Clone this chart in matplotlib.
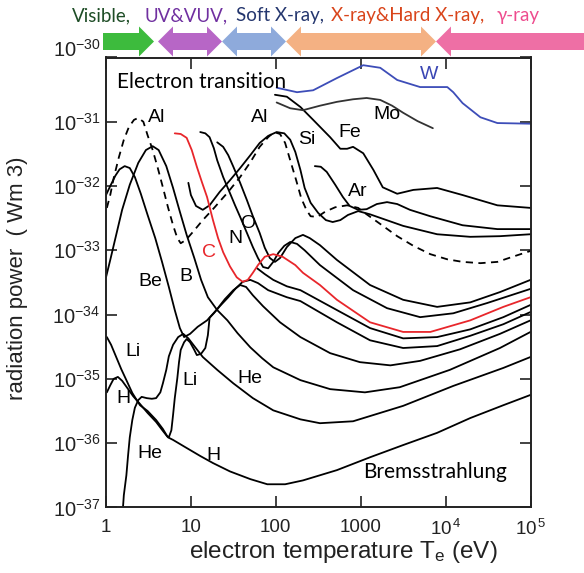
import numpy as np
import matplotlib
matplotlib.use('Agg')
import matplotlib.pyplot as plt
from matplotlib.patches import Polygon
from matplotlib.ticker import NullLocator
from matplotlib.transforms import ScaledTranslation

plt.rcParams['font.family'] = ['Liberation Sans', 'DejaVu Sans']
plt.rcParams['mathtext.fontset'] = 'custom'
plt.rcParams['mathtext.rm'] = 'Liberation Sans'
plt.rcParams['mathtext.it'] = 'Liberation Sans:italic'
plt.rcParams['mathtext.bf'] = 'Liberation Sans:bold'

# ---- data: log10 of electron temperature (eV) and log10 of radiation power (W m^3) ----
h_logT = [0.01,0.05,0.09,0.14,0.19,0.25,0.32,0.40,0.49,0.59,0.67,0.73,0.79,0.93,1.11,1.26,1.46,1.70,1.90,2.11,2.32,2.72,3.11,3.50,3.90,4.29,4.68,5.00]
h_logP = [-35.21,-35.10,-35.00,-34.97,-35.03,-35.14,-35.27,-35.39,-35.53,-35.67,-35.81,-35.91,-35.95,-36.06,-36.20,-36.31,-36.44,-36.56,-36.64,-36.64,-36.58,-36.42,-36.22,-36.03,-35.84,-35.61,-35.41,-35.25]

he_logT = [0.20,0.21,0.24,0.26,0.28,0.31,0.34,0.38,0.42,0.48,0.54,0.59,0.64,0.67,0.71,0.74,0.79,0.85,0.91,0.97,1.04,1.14,1.31,1.50,1.73,1.97,2.29,2.52,2.91,3.50,4.09,4.68,5.00]
he_logP = [-37.00,-36.81,-36.50,-36.19,-35.91,-35.64,-35.45,-35.33,-35.28,-35.30,-35.31,-35.30,-35.21,-35.07,-34.86,-34.65,-34.47,-34.35,-34.30,-34.37,-34.49,-34.66,-34.86,-35.07,-35.30,-35.49,-35.63,-35.69,-35.66,-35.42,-35.11,-34.83,-34.66]

li_logT = [0.01,0.06,0.12,0.18,0.24,0.31,0.40,0.49,0.59,0.67,0.72,0.74,0.77,0.79,0.81,0.84,0.86,0.88,0.92,0.95,0.99,1.04,1.07,1.12,1.17,1.20,1.22,1.27,1.34,1.44,1.53,1.61,1.70,1.79,1.91,2.13,2.29,2.72,3.11,3.50,3.90,4.29,4.68,5.00]
li_logP = [-34.35,-34.47,-34.66,-34.85,-35.02,-35.22,-35.41,-35.50,-35.64,-35.78,-35.89,-35.91,-35.80,-35.56,-35.30,-34.99,-34.74,-34.55,-34.43,-34.38,-34.43,-34.55,-34.63,-34.61,-34.52,-34.32,-34.05,-33.98,-33.87,-33.73,-33.59,-33.49,-33.46,-33.51,-33.62,-33.73,-33.79,-34.12,-34.40,-34.52,-34.49,-34.33,-34.15,-33.96]

be_logT = [0.00,0.05,0.11,0.16,0.22,0.28,0.34,0.41,0.49,0.58,0.66,0.74,0.81,0.87,0.92,0.99,1.08,1.19,1.30,1.40,1.50,1.58,1.65,1.73,1.85,2.05,2.29,2.64,2.99,3.35,3.70,4.17,4.64,5.00]
be_logP = [-32.14,-32.00,-31.84,-31.74,-31.69,-31.72,-31.86,-32.12,-32.45,-32.81,-33.18,-33.57,-33.93,-34.21,-34.35,-34.30,-34.19,-34.09,-33.93,-33.76,-33.62,-33.54,-33.57,-33.70,-33.87,-34.12,-34.35,-34.60,-34.74,-34.79,-34.72,-34.54,-34.30,-34.09]

b_logT = [0.00,0.05,0.12,0.19,0.28,0.38,0.47,0.55,0.62,0.71,0.79,0.87,0.95,1.04,1.12,1.20,1.31,1.43,1.55,1.70,1.84,1.97,2.29,2.64,3.05,3.46,4.05,4.64,5.00]
b_logP = [-33.42,-33.15,-32.76,-32.37,-31.98,-31.64,-31.44,-31.38,-31.44,-31.69,-32.03,-32.40,-32.76,-33.12,-33.46,-33.73,-33.93,-34.09,-34.29,-34.51,-34.68,-34.82,-35.02,-35.16,-35.21,-35.13,-34.86,-34.52,-34.27]

c_logT = [0.81,0.88,0.95,1.01,1.07,1.13,1.19,1.26,1.32,1.38,1.46,1.54,1.61,1.67,1.73,1.79,1.87,1.97,2.08,2.23,2.32,2.52,2.72,3.11,3.50,3.82,4.29,4.68,5.00]
c_logP = [-31.18,-31.19,-31.25,-31.44,-31.70,-31.94,-32.17,-32.53,-32.81,-33.03,-33.25,-33.42,-33.49,-33.46,-33.35,-33.23,-33.10,-33.06,-33.10,-33.23,-33.35,-33.54,-33.77,-34.12,-34.27,-34.27,-34.09,-33.88,-33.73]

n_logT = [1.11,1.17,1.22,1.27,1.31,1.38,1.46,1.52,1.58,1.66,1.73,1.79,1.85,1.91,1.97,2.03,2.10,2.17,2.25,2.34,2.52,2.91,3.31,3.70,4.09,4.49,5.00]
n_logP = [-31.16,-31.18,-31.24,-31.41,-31.60,-31.86,-32.11,-32.30,-32.48,-32.73,-32.95,-33.12,-33.26,-33.28,-33.18,-33.04,-32.93,-32.87,-32.90,-33.00,-33.23,-33.62,-33.90,-34.04,-33.98,-33.82,-33.60]

o_logT = [1.31,1.38,1.44,1.50,1.58,1.66,1.73,1.81,1.87,1.93,1.99,2.05,2.13,2.23,2.32,2.40,2.52,2.72,3.11,3.50,3.90,4.29,4.64,5.00]
o_logP = [-31.32,-31.39,-31.52,-31.70,-31.95,-32.22,-32.47,-32.73,-32.96,-33.12,-33.18,-33.12,-32.95,-32.81,-32.76,-32.81,-32.92,-33.15,-33.54,-33.77,-33.88,-33.81,-33.65,-33.46]

x_logT = [1.78,1.87,1.97,2.13,2.29,2.72,3.11,3.50,3.90,4.29,4.68,5.00]
x_logP = [-33.28,-33.37,-33.46,-33.56,-33.62,-33.93,-34.21,-34.37,-34.35,-34.23,-34.04,-33.85]

al_logT = [0.01,0.05,0.09,0.15,0.21,0.27,0.33,0.38,0.44,0.49,0.55,0.61,0.67,0.73,0.79,0.84,0.88,0.94,1.02,1.14,1.28,1.44,1.58,1.70,1.81,1.91,1.98,2.05,2.11,2.17,2.24,2.30,2.36,2.41,2.49,2.58,2.70,2.84,2.97,3.07,3.23,3.43,3.62,3.82,4.02,4.20,4.41,4.61,4.79,5.00]
al_logP = [-32.34,-32.14,-31.88,-31.56,-31.28,-31.08,-30.97,-30.94,-31.00,-31.21,-31.44,-31.72,-32.02,-32.33,-32.61,-32.81,-32.89,-32.84,-32.72,-32.53,-32.33,-32.09,-31.86,-31.63,-31.39,-31.24,-31.16,-31.19,-31.33,-31.60,-31.91,-32.19,-32.37,-32.47,-32.48,-32.40,-32.33,-32.30,-32.34,-32.44,-32.59,-32.78,-32.93,-33.06,-33.14,-33.18,-33.20,-33.18,-33.10,-33.01]

si_logT = [0.97,1.00,1.06,1.14,1.22,1.34,1.46,1.58,1.70,1.81,1.91,2.01,2.10,2.17,2.23,2.29,2.34,2.41,2.50,2.59,2.67,2.76,2.85,2.97,3.11,3.50,3.90,4.29,4.64,5.00]
si_logP = [-31.95,-32.14,-32.31,-32.37,-32.30,-32.09,-31.91,-31.72,-31.52,-31.33,-31.22,-31.16,-31.18,-31.28,-31.47,-31.75,-32.03,-32.26,-32.42,-32.53,-32.56,-32.53,-32.45,-32.39,-32.44,-32.62,-32.75,-32.79,-32.78,-32.75]

ar_logT = [2.46,2.53,2.60,2.70,2.79,2.87,2.97,3.07,3.19,3.31,3.43,3.58,3.82,4.20,4.61,5.00]
ar_logP = [-31.69,-31.70,-31.78,-31.98,-32.17,-32.31,-32.37,-32.36,-32.28,-32.25,-32.28,-32.37,-32.47,-32.61,-32.67,-32.67]

fe_logT = [1.99,2.13,2.29,2.44,2.64,2.76,2.84,2.91,3.03,3.15,3.26,3.43,3.62,3.90,4.20,4.61,5.00]
fe_logP = [-30.58,-30.61,-30.77,-30.97,-31.24,-31.42,-31.42,-31.39,-31.49,-31.75,-32.02,-32.12,-32.06,-32.03,-32.14,-32.30,-32.34]

mo_logT = [2.01,2.17,2.32,2.52,2.72,2.91,3.07,3.23,3.37,3.50,3.67,3.85]
mo_logP = [-30.70,-30.79,-30.82,-30.75,-30.69,-30.65,-30.63,-30.66,-30.75,-30.86,-30.99,-31.10]

w_logT = [2.01,2.25,2.44,2.72,3.03,3.23,3.43,3.70,4.02,4.09,4.20,4.41,4.61,5.00]
w_logP = [-30.47,-30.54,-30.51,-30.32,-30.12,-30.16,-30.35,-30.46,-30.46,-30.54,-30.71,-30.93,-31.02,-31.03]

x_ticks = [1, 10, 100, 1000, 1e4, 1e5]
x_ticklabels = ['1', '10', '100', '1000', r'10$^{\,4}$', r'10$^{\,5}$']
y_exponents = [-37, -36, -35, -34, -33, -32, -31, -30]

band_names = ['Visible,', 'UV&VUV,', 'Soft X-ray,', 'X-ray&Hard X-ray,', '\u03b3-ray']

# (text, logT, logP, color)
labels = [
    ('Al', 0.60, -30.93, 'black'), ('Al', 1.81, -30.93, 'black'),
    ('Si', 2.36, -31.28, 'black'), ('Fe', 2.87, -31.16, 'black'),
    ('Mo', 3.31, -30.89, 'black'), ('W', 3.80, -30.27, '#3a46b4'),
    ('Ar', 2.96, -32.08, 'black'), ('O', 1.67, -32.58, 'black'),
    ('N', 1.52, -32.81, 'black'), ('C', 1.21, -33.03, '#e8262b'),
    ('B', 0.94, -33.40, 'black'), ('Be', 0.52, -33.49, 'black'),
    ('Li', 0.32, -34.57, 'black'), ('H', 0.21, -35.30, 'black'),
    ('Li', 0.99, -35.02, 'black'), ('He', 0.52, -36.16, 'black'),
    ('He', 1.70, -35.00, 'black'), ('H', 1.27, -36.19, 'black'),
]

# ---- figure ----
W, H = 584, 573
fig = plt.figure(figsize=(W / 100, H / 100), dpi=100)
ax = fig.add_axes([106 / W, 1 - 507.4 / H, 424.5 / W, 449.9 / H])

curves = [
    (h_logT, h_logP, 'black', '-'), (he_logT, he_logP, 'black', '-'),
    (li_logT, li_logP, 'black', '-'), (be_logT, be_logP, 'black', '-'),
    (b_logT, b_logP, 'black', '-'), (x_logT, x_logP, 'black', '-'),
    (n_logT, n_logP, 'black', '-'), (o_logT, o_logP, 'black', '-'),
    (al_logT, al_logP, 'black', (0, (4, 3))), (si_logT, si_logP, 'black', '-'),
    (ar_logT, ar_logP, 'black', '-'), (fe_logT, fe_logP, 'black', '-'),
    (mo_logT, mo_logP, '#333333', '-'),
    (c_logT, c_logP, '#e8262b', '-'), (w_logT, w_logP, '#3d4db8', '-'),
]
for lt, lp, col, ls in curves:
    ax.plot(10 ** np.array(lt), 10 ** np.array(lp), color=col, ls=ls, lw=1.3,
            solid_capstyle='round')

ax.set_xscale('log')
ax.set_yscale('log')
ax.set_xlim(1, 1e5)
ax.set_ylim(1e-37, 1e-30)
ax.set_xticks(x_ticks)
ax.set_xticklabels(x_ticklabels)
ax.set_yticks([10.0 ** e for e in y_exponents])
ax.set_yticklabels([r'10$^{\mathrm{%d}}$' % e for e in y_exponents])
ax.xaxis.set_minor_locator(NullLocator())
ax.yaxis.set_minor_locator(NullLocator())
ax.tick_params(which='major', direction='in', top=True, right=True,
               length=8, width=1.2, colors='#222222')
ax.tick_params(axis='x', pad=8, labelsize=13.5)
ax.tick_params(axis='y', pad=4, labelsize=14.5)
for s in ax.spines.values():
    s.set_linewidth(1.4)
    s.set_color('#222222')

# top y label sits a little higher in the reference
top_lab = ax.get_yticklabels()[-1]
top_lab.set_transform(top_lab.get_transform() + ScaledTranslation(0, 0.1, fig.dpi_scale_trans))

ax.set_xlabel(r'electron temperature T$_{\mathrm{e}}$ (eV)', fontsize=17.5, color='#222222')
ax.xaxis.set_label_coords(0.56, -0.07)
ax.set_ylabel('radiation power  ( Wm 3)', fontsize=16, color='#222222')
ax.yaxis.set_label_coords(-0.184, 0.51)

for txt, lt, lp, col in labels:
    ax.text(10 ** lt, 10 ** lp, txt, fontsize=14, color=col, ha='center', va='center')

ax.text(10 ** 0.13, 10 ** -30.38, 'Electron transition', fontsize=15,
        family=['Lato', 'DejaVu Sans'], ha='left', va='center')
ax.text(10 ** 3.03, 10 ** -36.45, 'Bremsstrahlung', fontsize=15,
        family=['Lato', 'DejaVu Sans'], ha='left', va='center')

# ---- spectral band arrows (figure pixel geometry) ----
def arrow(x0, x1, lhead, rhead, color, yc=41.5, bh=8.5, hh=15, hl=15):
    lt_ = [(x0, yc), (x0 + hl, yc - hh), (x0 + hl, yc - bh)] if lhead else [(x0, yc - bh)]
    rt_ = ([(x1 - hl, yc - bh), (x1 - hl, yc - hh), (x1, yc), (x1 - hl, yc + hh), (x1 - hl, yc + bh)]
           if rhead else [(x1, yc - bh), (x1, yc + bh)])
    lb_ = [(x0 + hl, yc + bh), (x0 + hl, yc + hh)] if lhead else [(x0, yc + bh)]
    pts = [(x / W, 1 - y / H) for x, y in lt_ + rt_ + lb_]
    fig.add_artist(Polygon(pts, closed=True, transform=fig.transFigure,
                           facecolor=color, edgecolor='none'))

arrow(103, 154, False, True, '#3dbb3d')
arrow(158, 222, True, True, '#b766c6')
arrow(222, 286, True, True, '#8eaadb')
arrow(286, 436, True, True, '#f4b183')
arrow(436, 590, True, False, '#ee6fa5')

band_x = [72, 145, 236, 331, 497]
band_colors = ['#1e4d26', '#7030a0', '#24366e', '#d9441a', '#ee4c8e']
for name, bx, col in zip(band_names, band_x, band_colors):
    fig.text(bx / W, 1 - 16 / H, name, fontsize=13.5, color=col,
             family=['Lato', 'DejaVu Sans'], ha='left', va='center')

fig.savefig('out.png', dpi=100, facecolor='white')
